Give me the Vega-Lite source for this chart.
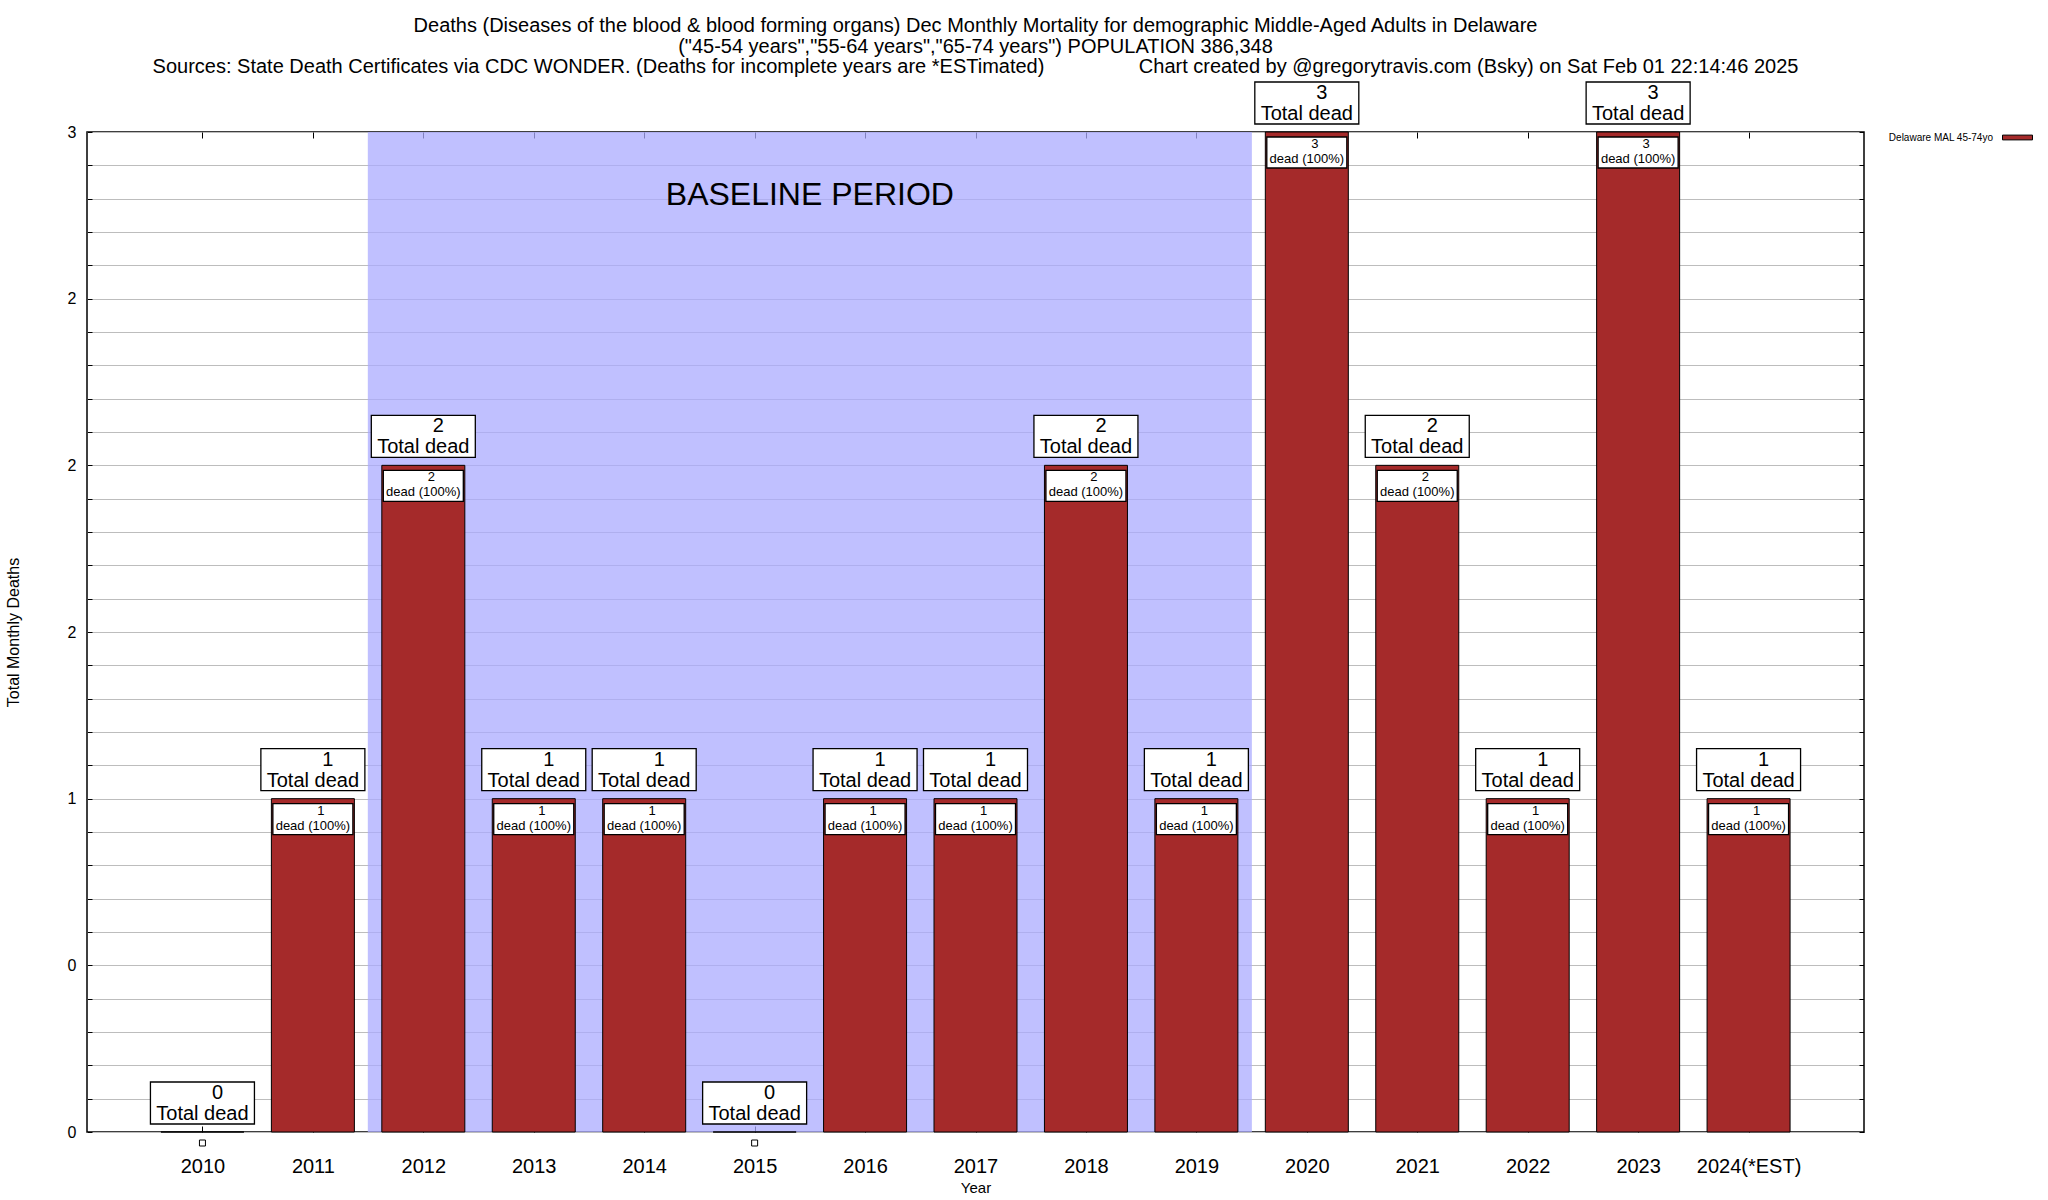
{
  "$schema": "https://vega.github.io/schema/vega-lite/v6.json",
  "width": 1777,
  "height": 1000,
  "autosize": "none",
  "padding": {"left": 87, "top": 132, "right": 184, "bottom": 68},
  "background": "white",
  "config": {
    "font": "Liberation Sans",
    "view": {"stroke": "black", "strokeWidth": 1.5},
    "axis": {"labelFont": "Liberation Sans", "titleFont": "Liberation Sans", "titleFontWeight": "normal", "labelColor": "black", "titleColor": "black", "tickColor": "black"}
  },
  "title": {
    "text": [
      "Deaths (Diseases of the blood & blood forming organs) Dec Monthly Mortality for demographic Middle-Aged Adults in Delaware",
      "(\"45-54 years\",\"55-64 years\",\"65-74 years\") POPULATION 386,348",
      "Sources: State Death Certificates via CDC WONDER. (Deaths for incomplete years are *ESTimated)\u00a0\u00a0\u00a0\u00a0\u00a0\u00a0\u00a0\u00a0\u00a0\u00a0\u00a0\u00a0\u00a0\u00a0\u00a0\u00a0\u00a0Chart created by @gregorytravis.com (Bsky) on Sat Feb 01 22:14:46 2025"
    ],
    "font": "Liberation Sans",
    "fontSize": 20,
    "fontWeight": "normal",
    "color": "black",
    "anchor": "middle",
    "frame": "group",
    "lineHeight": 20.5,
    "offset": 2
  },
  "datasets": {
    "deaths": [
      {"year": 2010, "deaths": 0},
      {"year": 2011, "deaths": 1},
      {"year": 2012, "deaths": 2},
      {"year": 2013, "deaths": 1},
      {"year": 2014, "deaths": 1},
      {"year": 2015, "deaths": 0},
      {"year": 2016, "deaths": 1},
      {"year": 2017, "deaths": 1},
      {"year": 2018, "deaths": 2},
      {"year": 2019, "deaths": 1},
      {"year": 2020, "deaths": 3},
      {"year": 2021, "deaths": 2},
      {"year": 2022, "deaths": 1},
      {"year": 2023, "deaths": 3},
      {"year": 2024, "deaths": 1}
    ],
    "periods": [
      {"label": "BASELINE PERIOD", "start": 2012, "end": 2019}
    ]
  },
  "resolve": {"axis": {"x": "independent", "y": "independent"}},
  "layer": [
    {
      "data": {"name": "periods"},
      "mark": {"type": "rect", "color": "#ababff", "opacity": 0.75, "xOffset": -55.5, "x2Offset": 55.5},
      "encoding": {
        "x": {"field": "start", "type": "quantitative", "scale": {"domain": [2009, 2025], "nice": false, "zero": false}, "axis": null},
        "x2": {"field": "end"}
      }
    },
    {
      "data": {"name": "periods"},
      "mark": {"type": "text", "font": "Liberation Sans", "fontSize": 32, "color": "black", "align": "center", "baseline": "middle"},
      "encoding": {
        "x": {"datum": 2015.5, "type": "quantitative", "scale": {"domain": [2009, 2025], "nice": false, "zero": false}, "axis": null},
        "y": {"datum": 2.812, "type": "quantitative", "scale": {"domain": [0, 3], "nice": false}, "axis": null},
        "text": {"field": "label"}
      }
    },
    {
      "data": {"name": "deaths"},
      "mark": {"type": "bar", "width": 83, "stroke": "black", "strokeWidth": 1},
      "encoding": {
        "x": {
          "field": "year", "type": "quantitative",
          "scale": {"domain": [2009, 2025], "nice": false, "zero": false},
          "axis": {
            "orient": "bottom", "title": "Year", "titleFontSize": 15, "titlePadding": 4,
            "values": [2010, 2011, 2012, 2013, 2014, 2015, 2016, 2017, 2018, 2019, 2020, 2021, 2022, 2023, 2024],
            "labelExpr": "datum.value == 2024 ? '2024(*EST)' : format(datum.value, 'd')",
            "labelFontSize": 20, "labelPadding": 30, "tickSize": -6, "tickWidth": 1, "domain": false, "grid": false, "labelOverlap": false, "labelFlush": false
          }
        },
        "y": {
          "field": "deaths", "type": "quantitative",
          "scale": {"domain": [0, 3], "nice": false},
          "axis": {
            "orient": "left", "title": "Total Monthly Deaths", "titleFontSize": 16, "titlePadding": 46,
            "values": [0, 0.1, 0.2, 0.3, 0.4, 0.5, 0.6, 0.7, 0.8, 0.9, 1, 1.1, 1.2, 1.3, 1.4, 1.5, 1.6, 1.7, 1.8, 1.9, 2, 2.1, 2.2, 2.3, 2.4, 2.5, 2.6, 2.7, 2.8, 2.9, 3],
            "labelExpr": "datum.value == 0 || datum.value == 0.5 ? '0' : datum.value == 1 ? '1' : (datum.value == 1.5 || datum.value == 2 || datum.value == 2.5) ? '2' : datum.value == 3 ? '3' : ''",
            "labelFontSize": 16, "labelPadding": 16, "tickSize": -5, "domain": false,
            "grid": true, "gridColor": "#bdbdbd", "gridWidth": 1, "labelOverlap": false, "labelFlush": false
          }
        },
        "color": {
          "datum": "Delaware MAL 45-74yo", "type": "nominal",
          "scale": {"range": ["#a52a2a"]},
          "legend": {
            "orient": "none", "legendX": 1915, "legendY": -10, "title": null,
            "symbolType": "M-1,-0.16H1V0.16H-1Z", "symbolSize": 900, "symbolStrokeColor": "black", "symbolStrokeWidth": 1,
            "labelFont": "Liberation Sans", "labelFontSize": 10, "labelColor": "black", "labelAlign": "right", "labelOffset": -40
          }
        }
      }
    },
    {
      "data": {"name": "deaths"},
      "mark": {"type": "point", "shape": "M-1,-0.4038H1V0.4038H-1Z", "size": 10816, "filled": true, "fill": "white", "stroke": "black", "strokeWidth": 1.3, "opacity": 1, "yOffset": -29},
      "encoding": {
        "x": {"field": "year", "type": "quantitative", "scale": {"domain": [2009, 2025], "nice": false, "zero": false}, "axis": null},
        "y": {"field": "deaths", "type": "quantitative", "scale": {"domain": [0, 3], "nice": false}, "axis": null}
      }
    },
    {
      "data": {"name": "deaths"},
      "mark": {"type": "text", "fontSize": 20, "color": "black", "align": "center", "baseline": "middle", "dx": 15, "yOffset": -39},
      "encoding": {
        "x": {"field": "year", "type": "quantitative", "scale": {"domain": [2009, 2025], "nice": false, "zero": false}, "axis": null},
        "y": {"field": "deaths", "type": "quantitative", "scale": {"domain": [0, 3], "nice": false}, "axis": null},
        "text": {"field": "deaths"}
      }
    },
    {
      "data": {"name": "deaths"},
      "mark": {"type": "text", "fontSize": 20, "color": "black", "align": "center", "baseline": "middle", "yOffset": -18},
      "encoding": {
        "x": {"field": "year", "type": "quantitative", "scale": {"domain": [2009, 2025], "nice": false, "zero": false}, "axis": null},
        "y": {"field": "deaths", "type": "quantitative", "scale": {"domain": [0, 3], "nice": false}, "axis": null},
        "text": {"value": "Total dead"}
      }
    },
    {
      "data": {"name": "deaths"},
      "transform": [{"filter": "datum.deaths > 0"}],
      "mark": {"type": "point", "shape": "M-1,-0.3875H1V0.3875H-1Z", "size": 6400, "filled": true, "fill": "white", "stroke": "black", "strokeWidth": 1.3, "opacity": 1, "yOffset": 20.5},
      "encoding": {
        "x": {"field": "year", "type": "quantitative", "scale": {"domain": [2009, 2025], "nice": false, "zero": false}, "axis": null},
        "y": {"field": "deaths", "type": "quantitative", "scale": {"domain": [0, 3], "nice": false}, "axis": null}
      }
    },
    {
      "data": {"name": "deaths"},
      "transform": [{"filter": "datum.deaths > 0"}],
      "mark": {"type": "text", "fontSize": 13, "color": "black", "align": "center", "baseline": "middle", "dx": 8, "yOffset": 12},
      "encoding": {
        "x": {"field": "year", "type": "quantitative", "scale": {"domain": [2009, 2025], "nice": false, "zero": false}, "axis": null},
        "y": {"field": "deaths", "type": "quantitative", "scale": {"domain": [0, 3], "nice": false}, "axis": null},
        "text": {"field": "deaths"}
      }
    },
    {
      "data": {"name": "deaths"},
      "transform": [{"filter": "datum.deaths > 0"}],
      "mark": {"type": "text", "fontSize": 13, "color": "black", "align": "center", "baseline": "middle", "yOffset": 27},
      "encoding": {
        "x": {"field": "year", "type": "quantitative", "scale": {"domain": [2009, 2025], "nice": false, "zero": false}, "axis": null},
        "y": {"field": "deaths", "type": "quantitative", "scale": {"domain": [0, 3], "nice": false}, "axis": null},
        "text": {"value": "dead (100%)"}
      }
    },
    {
      "data": {"name": "deaths"},
      "transform": [{"filter": "datum.deaths == 0"}],
      "mark": {"type": "point", "shape": "square", "size": 36, "filled": true, "fill": "white", "stroke": "black", "strokeWidth": 1, "opacity": 1, "yOffset": 11},
      "encoding": {
        "x": {"field": "year", "type": "quantitative", "scale": {"domain": [2009, 2025], "nice": false, "zero": false}, "axis": null},
        "y": {"field": "deaths", "type": "quantitative", "scale": {"domain": [0, 3], "nice": false}, "axis": null}
      }
    },
    {
      "data": {"name": "deaths"},
      "mark": {"type": "point", "opacity": 0},
      "encoding": {
        "x": {
          "field": "year", "type": "quantitative", "scale": {"domain": [2009, 2025], "nice": false, "zero": false},
          "axis": {"orient": "top", "title": null, "labels": false, "domain": false, "grid": false, "tickSize": -6,
            "values": [2010, 2011, 2012, 2013, 2014, 2015, 2016, 2017, 2018, 2019, 2020, 2021, 2022, 2023, 2024]}
        },
        "y": {
          "field": "deaths", "type": "quantitative", "scale": {"domain": [0, 3], "nice": false},
          "axis": {"orient": "right", "title": null, "labels": false, "domain": false, "grid": false, "tickSize": -5,
            "values": [0, 0.1, 0.2, 0.3, 0.4, 0.5, 0.6, 0.7, 0.8, 0.9, 1, 1.1, 1.2, 1.3, 1.4, 1.5, 1.6, 1.7, 1.8, 1.9, 2, 2.1, 2.2, 2.3, 2.4, 2.5, 2.6, 2.7, 2.8, 2.9, 3]}
        }
      }
    }
  ]
}
